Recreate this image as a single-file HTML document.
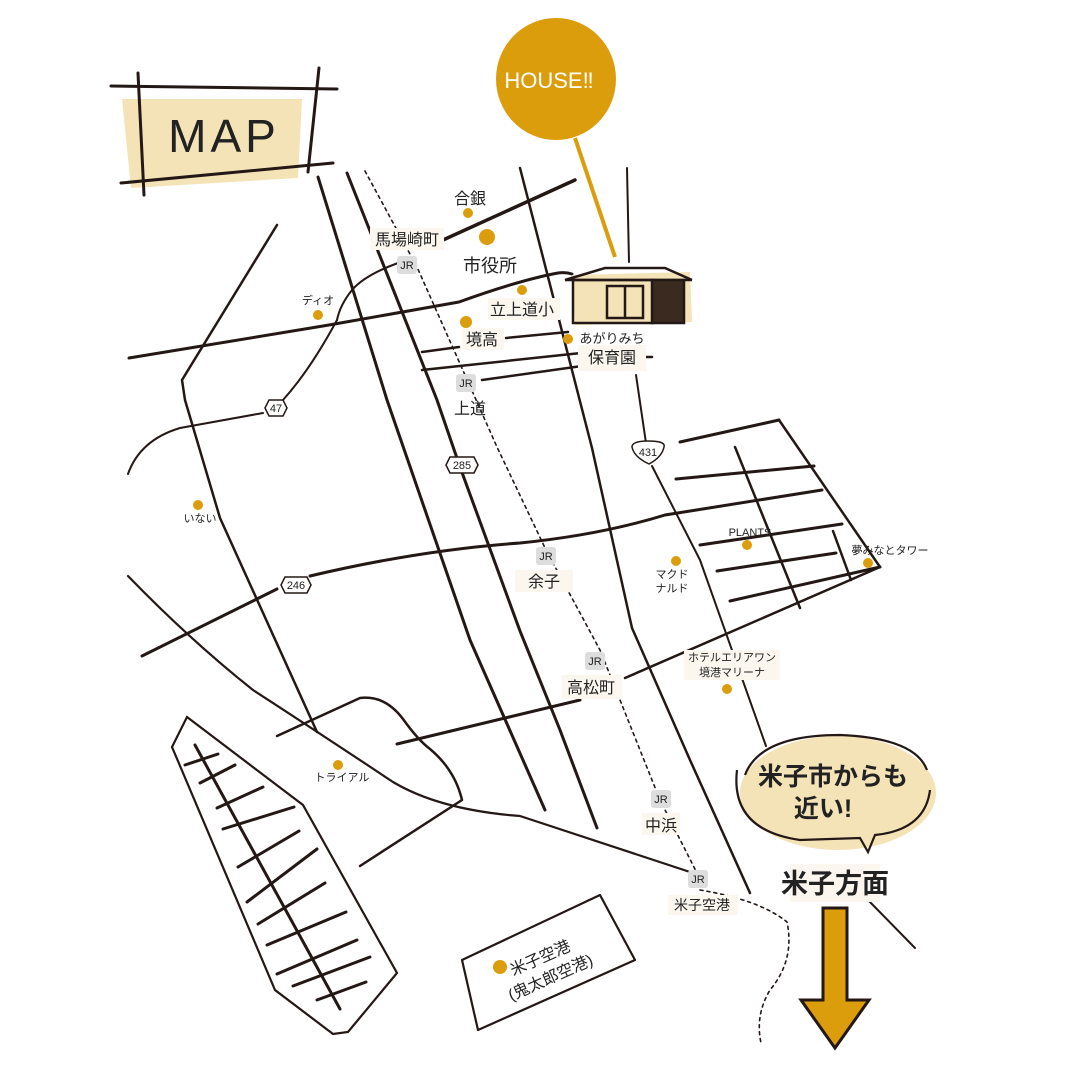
<!DOCTYPE html>
<html><head><meta charset="utf-8"><style>
html,body{margin:0;padding:0;background:#fff}
svg{display:block}
text{font-family:"Liberation Sans","Noto Sans CJK JP",sans-serif;fill:#222}
</style></head><body>
<svg width="1080" height="1080" viewBox="0 0 1080 1080" xmlns="http://www.w3.org/2000/svg">
<g fill="none" stroke="#231815" stroke-linecap="round" stroke-linejoin="round">
<!-- MAP frame -->
<polygon points="122,99 302,99 298,178 131,188" fill="#f5e3b8" stroke="none"/>
<line x1="111" y1="86" x2="337" y2="89" stroke-width="3"/>
<line x1="121" y1="183" x2="333" y2="163" stroke-width="3"/>
<line x1="138" y1="73" x2="144" y2="195" stroke-width="3"/>
<line x1="319" y1="68" x2="308" y2="172" stroke-width="3"/>
<!-- main roads -->
<polyline points="318,177 387,400 470,640 545,810" stroke-width="3"/>
<polyline points="347,173 437,400 460,467 520,631 560,730 597,828" stroke-width="3"/>
<polyline points="520,168 592,448 632,628 690,760 750,893" stroke-width="2.5"/>
<line x1="627" y1="168" x2="629" y2="262" stroke-width="2"/>
<line x1="443" y1="240" x2="575" y2="180" stroke-width="3.5"/>
<path d="M129,358 L329,325 L459,302 Q520,280 558,273 Q566,272 572,274" stroke-width="3"/>
<line x1="422" y1="352" x2="459" y2="347" stroke-width="2.5"/>
<line x1="506" y1="338" x2="568" y2="332" stroke-width="2.5"/>
<line x1="422" y1="370" x2="581" y2="353" stroke-width="2.5"/>
<line x1="482" y1="380" x2="589" y2="365" stroke-width="2.5"/>
<line x1="646" y1="357" x2="652" y2="357" stroke-width="2.5"/>
<!-- road 47 -->
<path d="M398,263 Q365,275 352,290 Q340,305 337,320 Q310,370 283,400" stroke-width="2"/>
<path d="M263,413 L180,428 Q140,440 128,474" stroke-width="2"/>
<!-- left road -->
<polyline points="277,225 182,380 185,400 220,518 317,732" stroke-width="2.5"/>
<!-- long curve -->
<path d="M128,576 Q190,640 253,690 Q330,740 393,782 Q440,810 520,816 L690,872" stroke-width="2.2"/>
<!-- 246 -->
<path d="M142,656 L277,589 M310,576 Q420,550 520,543 Q600,535 665,515 L822,490" stroke-width="3"/>
<!-- loop -->
<path d="M277,736 L360,698 Q385,695 403,719 Q418,740 430,749 Q455,770 462,800 L360,866" stroke-width="2.5"/>
<line x1="397" y1="744" x2="580" y2="700" stroke-width="3"/>
<line x1="625" y1="678" x2="880" y2="567" stroke-width="2.5"/>
<!-- 431 -->
<polyline points="636,375 646,443" stroke-width="2"/>
<polyline points="652,466 700,560 766,746" stroke-width="2"/>
<line x1="868" y1="900" x2="915" y2="948" stroke-width="2"/>
<!-- NE grid -->
<line x1="680" y1="442" x2="779" y2="420" stroke-width="3"/>
<line x1="779" y1="420" x2="880" y2="567" stroke-width="2.5"/>
<line x1="676" y1="479" x2="814" y2="466" stroke-width="3"/>
<line x1="700" y1="545" x2="842" y2="524" stroke-width="3"/>
<line x1="717" y1="571" x2="836" y2="553" stroke-width="3"/>
<line x1="730" y1="601" x2="880" y2="567" stroke-width="3"/>
<line x1="735" y1="447" x2="800" y2="608" stroke-width="2.5"/>
<line x1="833" y1="531" x2="851" y2="580" stroke-width="2.5"/>
<!-- parking -->
<polygon points="187,717 303,805 397,973 348,1032 333,1034 275,990 172,747" stroke-width="2.2" stroke-linejoin="miter"/>
<line x1="195" y1="745" x2="340" y2="1009" stroke-width="3"/>
<g stroke-width="3">
<line x1="185" y1="765" x2="218" y2="754"/><line x1="200" y1="783" x2="235" y2="765"/>
<line x1="217" y1="808" x2="263" y2="787"/><line x1="223" y1="829" x2="294" y2="807"/>
<line x1="238" y1="867" x2="299" y2="831"/><line x1="247" y1="902" x2="317" y2="849"/>
<line x1="258" y1="924" x2="325" y2="883"/><line x1="267" y1="945" x2="346" y2="912"/>
<line x1="277" y1="974" x2="357" y2="940"/><line x1="293" y1="986" x2="370" y2="957"/>
<line x1="317" y1="1000" x2="366" y2="982"/>
</g>
<!-- airport box -->
<polygon points="462,960 600,895 635,960 478,1030" stroke-width="2.2"/>
<!-- JR dotted -->
<polyline points="365,171 417,267 497,447 546,550 600,650 660,800 698,875" stroke-width="1.6" stroke-dasharray="3,4"/>
<path d="M700,890 Q760,900 787,922 Q795,960 770,990 Q755,1015 761,1043" stroke-width="1.6" stroke-dasharray="3,4"/>
</g>
<!-- house pin -->
<ellipse cx="556" cy="79" rx="60" ry="61" fill="#dc9d0c"/>
<line x1="575" y1="138" x2="615" y2="257" stroke="#dc9d0c" stroke-width="4"/>
<text x="549" y="88" font-size="22" text-anchor="middle" style="fill:#fff">HOUSE‼</text>
<!-- house -->
<g stroke="#231815" stroke-width="2.5" fill="none">
<polygon points="572,275 690,272 692,322 575,325" fill="#f5e3b8" stroke="none"/>
<polyline points="565,280 605,268 665,268 692,280"/>
<line x1="565" y1="280" x2="692" y2="280"/>
<rect x="573" y="280" width="80" height="43"/>
<rect x="607" y="286" width="36" height="32"/>
<line x1="625" y1="286" x2="625" y2="318"/>
<rect x="652" y="280" width="32" height="43" fill="#3a2a1f"/>
</g>
<!-- bubble -->
<ellipse cx="838" cy="793" rx="98" ry="57" fill="#f5e3b8"/>
<path d="M745,775 Q760,735 840,735 Q915,738 927,770 M737,770 Q730,830 800,840 L860,838 L868,852 L875,835 Q925,830 930,790" fill="none" stroke="#231815" stroke-width="2.2"/>
<text x="833" y="785" font-size="25" text-anchor="middle" font-weight="bold">米子市からも</text>
<text x="823" y="817" font-size="25" text-anchor="middle" font-weight="bold">近い!</text>
<rect x="790" y="864" width="90" height="38" fill="#fbf7ef"/>
<text x="835" y="893" font-size="27" text-anchor="middle" font-weight="bold">米子方面</text>
<!-- arrow -->
<polygon points="823,908 847,908 847,1000 869,1000 835,1048 801,1000 823,1000" fill="#dc9d0c" stroke="#231815" stroke-width="3" stroke-linejoin="miter"/>
<!-- MAP text -->
<text x="224" y="152" font-size="46" text-anchor="middle" style="letter-spacing:4px">MAP</text>
<!-- dots -->
<g fill="#dc9d0c">
<circle cx="468" cy="213" r="5"/><circle cx="487" cy="237" r="8"/>
<circle cx="522" cy="290" r="5"/><circle cx="318" cy="315" r="5"/>
<circle cx="466" cy="322" r="6"/><circle cx="568" cy="339" r="5"/>
<circle cx="198" cy="505" r="5"/><circle cx="338" cy="765" r="5"/>
<circle cx="747" cy="545" r="5"/><circle cx="676" cy="561" r="5"/>
<circle cx="868" cy="563" r="5"/><circle cx="727" cy="689" r="5"/>
<circle cx="500" cy="967" r="7"/>
</g>
<!-- label backgrounds -->
<g fill="#fbf7ef">
<rect x="370" y="228" width="74" height="22"/><rect x="488" y="298" width="72" height="22"/>
<rect x="462" y="328" width="42" height="22"/><rect x="578" y="345" width="68" height="26"/>
<rect x="515" y="570" width="58" height="22"/><rect x="562" y="675" width="60" height="24"/>
<rect x="642" y="813" width="38" height="22"/><rect x="668" y="895" width="70" height="20"/>
<rect x="684" y="650" width="96" height="30"/>
</g>
<!-- JR badges -->
<g font-size="11">
<rect x="397" y="256" width="20" height="18" rx="3" fill="#ddd"/><text x="407" y="269" text-anchor="middle">JR</text>
<rect x="456" y="374" width="20" height="18" rx="3" fill="#ddd"/><text x="466" y="387" text-anchor="middle">JR</text>
<rect x="536" y="547" width="20" height="18" rx="3" fill="#ddd"/><text x="546" y="560" text-anchor="middle">JR</text>
<rect x="585" y="652" width="20" height="18" rx="3" fill="#ddd"/><text x="595" y="665" text-anchor="middle">JR</text>
<rect x="651" y="790" width="20" height="18" rx="3" fill="#ddd"/><text x="661" y="803" text-anchor="middle">JR</text>
<rect x="688" y="870" width="20" height="18" rx="3" fill="#ddd"/><text x="698" y="883" text-anchor="middle">JR</text>
</g>
<!-- shields -->
<g stroke="#231815" stroke-width="1.5" fill="#fff">
<polygon points="265,408 269,400 283,400 287,408 283,416 269,416"/>
<polygon points="446,465 450,457 474,457 478,465 474,473 450,473"/>
<polygon points="281,585 285,577 307,577 311,585 307,593 285,593"/>
<path d="M632,447 Q632,441 648,441 Q666,441 664,447 Q662,457 649,464 Q634,457 632,447Z"/>
</g>
<g font-size="11" text-anchor="middle">
<text x="276" y="412">47</text><text x="462" y="469">285</text>
<text x="296" y="589">246</text><text x="648" y="456">431</text>
</g>
<!-- labels -->
<g font-size="16" text-anchor="middle">
<text x="470" y="204">合銀</text>
<text x="407" y="245">馬場崎町</text>
<text x="490" y="272" font-size="18">市役所</text>
<text x="522" y="315">立上道小</text>
<text x="482" y="345">境高</text>
<text x="612" y="343" font-size="13">あがりみち</text>
<text x="612" y="363">保育園</text>
<text x="470" y="414">上道</text>
<text x="544" y="587">余子</text>
<text x="591" y="693">高松町</text>
<text x="661" y="831">中浜</text>
<text x="702" y="910" font-size="14">米子空港</text>
</g>
<g font-size="11" text-anchor="middle">
<text x="318" y="304">ディオ</text>
<text x="200" y="522">いない</text>
<text x="342" y="781">トライアル</text>
<text x="750" y="536">PLANTS</text>
<text x="672" y="578">マクド</text><text x="672" y="592">ナルド</text>
<text x="890" y="554">夢みなとタワー</text>
<text x="732" y="661">ホテルエリアワン</text>
<text x="732" y="676">境港マリーナ</text>
</g>
<g transform="rotate(-24 550 965)" font-size="16">
<text x="512" y="960">米子空港</text>
<text x="500" y="982">(鬼太郎空港)</text>
</g>
</svg>
</body></html>
